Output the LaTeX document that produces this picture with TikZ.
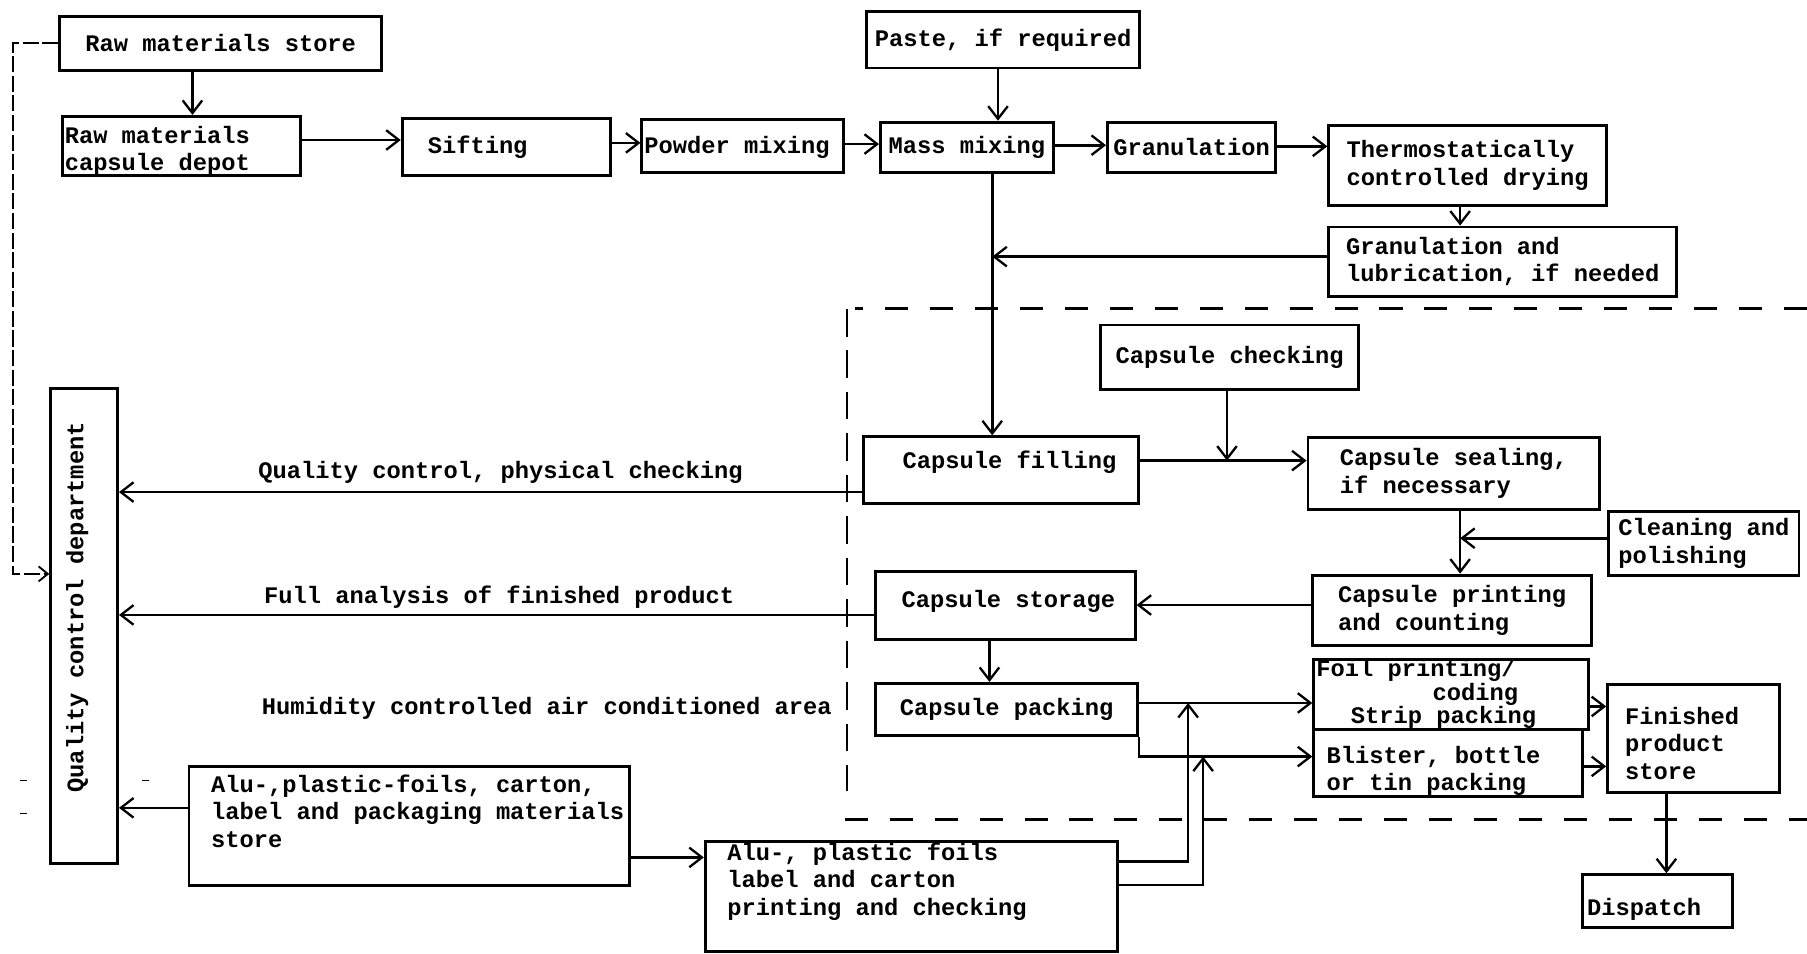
\documentclass[tikz,border=0pt]{standalone}
\usepackage{fontspec}
\setmonofont{Liberation Mono}
\usetikzlibrary{arrows.meta}
\newcommand\tyfont{\ttfamily\bfseries\fontsize{20.6}{24}\selectfont}
\tikzset{
  box/.style={draw, line width=2.5pt, inner sep=0pt, font=\tyfont, align=left},
  txt/.style={inner sep=0pt, font=\tyfont, align=left},
  arr/.style={line width=2.3pt, -{Straight Barb[length=11pt,width=17pt,line width=2pt]}},
  qcline/.style={line width=1.8pt, dash pattern=on 14pt off 3pt},
  zone/.style={line width=2.6pt, dash pattern=on 20pt off 19pt},
  zoneside/.style={line width=1.8pt, dash pattern=on 24pt off 12pt},
}
\begin{document}
\begin{tikzpicture}[x=1pt, y=-1pt]
\useasboundingbox (0,0) rectangle (1568,827);

% ---- process boxes ----
\node[box, minimum width=279pt, minimum height=47pt] (rawstore) at (191.5,37.5) {Raw materials store};
\node[box, minimum width=207pt, minimum height=51pt] (depot) at (157.5,126.5) {};
\node[txt, anchor=west] (depot-t) at (56,131) {Raw materials\\capsule depot};
\node[box, minimum width=181pt, minimum height=49pt] (sift) at (439.5,127.5) {};
\node[txt, anchor=west] (sift-t) at (371,128) {Sifting};
\node[box, minimum width=175pt, minimum height=46pt] (powder) at (644.5,127) {};
\node[txt, anchor=west] (powder-t) at (559,128) {Powder mixing};
\node[box, minimum width=237pt, minimum height=49pt] (paste) at (870.5,34.5) {Paste, if required};
\node[box, minimum width=150pt, minimum height=44pt] (mass) at (839,128) {Mass mixing};
\node[box, minimum width=146pt, minimum height=44pt] (gran) at (1034,128) {Granulation};
\node[box, minimum width=241pt, minimum height=69pt] (thermo) at (1273.5,143.5) {Thermostatically\\controlled drying};
\node[box, minimum width=302pt, minimum height=60pt] (granlub) at (1304,227) {Granulation and\\lubrication, if needed};

\node[box, minimum width=224pt, minimum height=56pt] (check) at (1067,310) {Capsule checking};
\node[box, minimum width=239pt, minimum height=58pt] (fill) at (868.5,408) {};
\node[txt] (fill-t) at (876,401) {Capsule filling};
\node[box, minimum width=253pt, minimum height=62pt] (seal) at (1261.5,411) {Capsule sealing,\\ if necessary};
\node[box, minimum width=165pt, minimum height=55pt] (clean) at (1478.5,471.5) {Cleaning and\\polishing};
\node[box, minimum width=242pt, minimum height=61pt] (print) at (1260,529.5) {Capsule printing\\and counting};
\node[box, minimum width=225pt, minimum height=59pt] (store) at (872.5,525.5) {};
\node[txt] (store-t) at (875,522) {Capsule storage};
\node[box, minimum width=227pt, minimum height=45pt] (pack) at (873.5,615.5) {Capsule packing};

\node[box, minimum width=238pt, minimum height=61pt] (strip) at (1259,602.5) {};
\node[txt, anchor=west] (strip-a) at (1142,582) {Foil printing/};
\node[txt, anchor=west] (strip-b) at (1243,602.4) {coding};
\node[txt, anchor=west] (strip-c) at (1172,622.8) {Strip packing};
\node[box, minimum width=233pt, minimum height=58pt] (blister) at (1256.5,662) {};
\node[txt, anchor=west] (blister-t) at (1151,669) {Blister, bottle\\or tin packing};
\node[box, minimum width=149pt, minimum height=94pt] (fin) at (1469.5,641) {};
\node[txt, anchor=west] (fin-t) at (1410,645) {Finished\\product\\store};
\node[box, minimum width=130pt, minimum height=46pt] (disp) at (1438,782) {};
\node[txt, anchor=west] (disp-t) at (1377,789) {Dispatch};

\node[box, minimum width=58pt, minimum height=412pt] (qc) at (73,543) {};
\node[txt, rotate=90] (qc-t) at (67,527) {Quality control department};

\node[box, minimum width=382pt, minimum height=103pt] (alustore) at (355,716.5) {};
\node[txt, anchor=west] (alustore-t) at (183,704) {Alu-,plastic-foils, carton,\\label and packaging materials\\store};
\node[box, minimum width=358pt, minimum height=96pt] (aluprint) at (791,778) {};
\node[txt, anchor=west] (aluprint-t) at (631,765) {Alu-, plastic foils\\label and carton\\printing and checking};

% ---- free texts ----
\node[txt, anchor=west] (lab-qc) at (224,410) {Quality control, physical checking};
\node[txt, anchor=west] (lab-full) at (229,518) {Full analysis of finished product};
\node[txt, anchor=west] (lab-hum) at (227,615) {Humidity controlled air conditioned area};

% ---- helper coordinates for connector positions ----
\coordinate (xa) at (167,0);
\coordinate (xb) at (866,0);
\coordinate (xc) at (1267,0);
\coordinate (xd) at (858.6,0);
\coordinate (xe) at (1446,0);
\coordinate (ya) at (0,121.5);
\coordinate (yb) at (0,124);
\coordinate (yc) at (0,125);
\coordinate (yd) at (0,126);
\coordinate (ye) at (0,127);
\coordinate (yf) at (0,525);
\coordinate (yg) at (0,533.6);
\coordinate (yh) at (0,427);
\coordinate (yi) at (0,610);
\coordinate (yj) at (0,747.6);
\coordinate (yk) at (0,768);
\coordinate (yl) at (0,613);
\coordinate (ym) at (0,665);
\coordinate (yn) at (0,701);
\coordinate (yo) at (0,744);
\coordinate (yp) at (0,498);
\coordinate (dx) at (11,0);
\coordinate (j1) at (861,222.7);
\coordinate (j2) at (1064.7,399.7);
\coordinate (j3) at (1267,467);
\coordinate (j4) at (1031,610);
\coordinate (j5) at (1044,656.5);

% ---- connectors ----
\draw[arr] (rawstore.south -| xa) -- (depot.north -| xa);
\draw[arr] (depot.east |- ya) -- (sift.west |- ya);
\draw[arr] (sift.east |- yb) -- (powder.west |- yb);
\draw[arr] (powder.east |- yc) -- (mass.west |- yc);
\draw[arr] (mass.east |- yd) -- (gran.west |- yd);
\draw[arr] (gran.east |- ye) -- (thermo.west |- ye);
\draw[arr] (paste.south -| xb) -- (mass.north -| xb);
\draw[arr] (thermo.south -| xc) -- (granlub.north -| xc);
\draw[arr] (granlub.west |- j1) -- (j1);
\draw[arr] (mass.south -| j1) -- (fill.north -| j1);
\draw[arr] (fill.east |- j2) -- (seal.west |- j2);
\draw[arr] (check.south -| j2) -- (j2);
\draw[arr] (seal.south -| j3) -- (print.north -| j3);
\draw[arr] (clean.west |- j3) -- (j3);
\draw[arr] (print.west |- yf) -- (store.east |- yf);
\draw[arr] (store.south -| xd) -- (pack.north -| xd);
\draw[arr] (store.west |- yg) -- (qc.east |- yg);
\draw[arr] (fill.west |- yh) -- (qc.east |- yh);
\draw[arr] (pack.east |- yi) -- (strip.west |- yi);
\draw[arr] (pack.south east) -- (pack.south east |- j5) -- (blister.west |- j5);
\draw[arr] (aluprint.east |- yj) -- (j4 |- yj) -- (j4);
\draw[arr] (aluprint.east |- yk) -- (j5 |- yk) -- (j5);
\draw[arr] (strip.east |- yl) -- (fin.west |- yl);
\draw[arr] (blister.east |- ym) -- (fin.west |- ym);
\draw[arr] (fin.south -| xe) -- (disp.north -| xe);
\draw[arr] (alustore.west |- yn) -- (qc.east |- yn);
\draw[arr] (alustore.east |- yo) -- (aluprint.west |- yo);
\draw[qcline, -{Straight Barb[length=8pt,width=13pt,line width=1.6pt]}]
  (rawstore.west) -- (rawstore.west -| dx) -- (dx |- yp) -- (qc.west |- yp);

% ---- humidity controlled area boundary ----
\draw[zone] (1568,267.5) -- (742,267.5);
\draw[zoneside] (735,268) -- (735,686);
\draw[zone] (733,711.5) -- (1568,711.5);

% ---- small stray marks at the left edge ----
\draw[line width=1pt] (17,677) -- (23,677);
\draw[line width=1pt] (123,677) -- (129,677);
\draw[line width=1pt] (17,706) -- (23,706);
\end{tikzpicture}
\end{document}
